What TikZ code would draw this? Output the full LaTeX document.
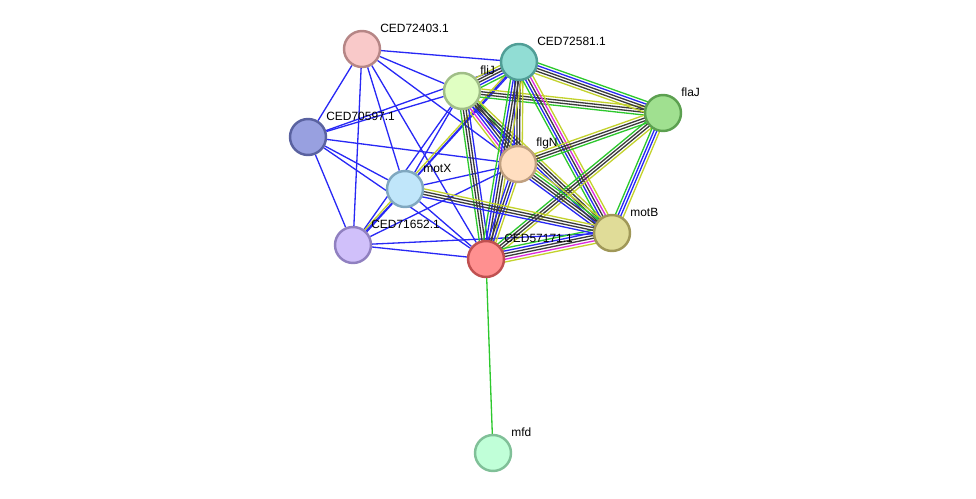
\documentclass[tikz,border=0pt]{standalone}
\usepackage{fontspec}
\setmainfont{Liberation Sans}
\usetikzlibrary{calc, backgrounds}

\definecolor{evblue}{RGB}{40,40,245}
\definecolor{evgreen}{RGB}{45,200,45}
\definecolor{evblack}{RGB}{60,60,60}
\definecolor{evyellow}{RGB}{195,210,45}
\definecolor{evmagenta}{RGB}{220,45,220}

% #1 from, #2 to, #3 number of lines, #4 colours of the parallel lines
\newcommand{\ppiedge}[4]{%
  \foreach \col [count=\i] in {#4} {
    \pgfmathsetmacro{\off}{(\i-(#3+1)/2)*1.55}
    \draw[link, \col] ($(#1)!\off pt!90:(#2)$) -- ($(#2)!\off pt!-90:(#1)$);
  }}

\begin{document}
\begin{tikzpicture}[
    x=0.02cm, y=-0.02cm,
    prot/.style={circle, line width=1.4pt, minimum size=0.72cm, inner sep=0pt},
    lbl/.style={anchor=west, inner sep=0pt, font=\fontsize{6.8}{8}\selectfont},
    link/.style={line width=0.75pt},
]
\useasboundingbox (0,0) rectangle (976,499);

% Proteins
\node[prot, draw={rgb,255:red,182;green,134;blue,134}, fill={rgb,255:red,249;green,201;blue,201}] (n72403) at (362,49) {};
\node[prot, draw={rgb,255:red,80;green,158;blue,150}, fill={rgb,255:red,145;green,221;blue,212}] (n72581) at (519,62) {};
\node[prot, draw={rgb,255:red,160;green,190;blue,135}, fill={rgb,255:red,224;green,255;blue,194}] (fliJ) at (462,91) {};
\node[prot, draw={rgb,255:red,92;green,160;blue,80}, fill={rgb,255:red,160;green,224;blue,144}] (flaJ) at (663,113) {};
\node[prot, draw={rgb,255:red,90;green,98;blue,160}, fill={rgb,255:red,152;green,160;blue,224}] (n70597) at (308,137) {};
\node[prot, draw={rgb,255:red,192;green,160;blue,128}, fill={rgb,255:red,255;green,222;blue,192}] (flgN) at (518,164) {};
\node[prot, draw={rgb,255:red,128;green,168;blue,192}, fill={rgb,255:red,192;green,230;blue,250}] (motX) at (405,189) {};
\node[prot, draw={rgb,255:red,144;green,128;blue,192}, fill={rgb,255:red,208;green,192;blue,250}] (n71652) at (353,245) {};
\node[prot, draw={rgb,255:red,160;green,152;blue,88}, fill={rgb,255:red,224;green,220;blue,152}] (motB) at (612,233) {};
\node[prot, draw={rgb,255:red,192;green,80;blue,80}, fill={rgb,255:red,255;green,144;blue,144}] (n57171) at (486,259) {};
\node[prot, draw={rgb,255:red,128;green,192;blue,152}, fill={rgb,255:red,192;green,255;blue,216}] (mfd) at (493,453) {};

% Labels
\node[lbl] (l72403) at ($(n72403)+(18,-21)$) {CED72403.1};
\node[lbl] (l72581) at ($(n72581)+(18,-21)$) {CED72581.1};
\node[lbl] (lfliJ) at ($(fliJ)+(18,-21)$) {fliJ};
\node[lbl] (lflaJ) at ($(flaJ)+(18,-21)$) {flaJ};
\node[lbl] (l70597) at ($(n70597)+(18,-21)$) {CED70597.1};
\node[lbl] (lflgN) at ($(flgN)+(18,-21)$) {flgN};
\node[lbl] (lmotX) at ($(motX)+(18,-21)$) {motX};
\node[lbl] (l71652) at ($(n71652)+(18,-21)$) {CED71652.1};
\node[lbl] (lmotB) at ($(motB)+(18,-21)$) {motB};
\node[lbl] (l57171) at ($(n57171)+(18,-21)$) {CED57171.1};
\node[lbl] (lmfd) at ($(mfd)+(18,-21)$) {mfd};

% Edges behind the proteins
\begin{scope}[on background layer]
\foreach \a/\b in {n72403/n72581, n72403/fliJ, n72403/flgN, n72403/n70597,
    n72403/motX, n72403/n71652, n72403/n57171, n70597/fliJ, n70597/n72581,
    n70597/flgN, n70597/motX, n70597/n71652, n70597/n57171, motX/fliJ,
    motX/flgN, motX/n71652, motX/n57171, motX/n72581, n71652/fliJ,
    n71652/flgN, n71652/n57171, n71652/motB}
  \draw[link, evblue] (\a) -- (\b);

\ppiedge{n71652}{n72581}{2}{evblue, evyellow}
\ppiedge{fliJ}{n72581}{5}{evgreen, evblue, evblack, evblack, evyellow}
\ppiedge{fliJ}{flaJ}{4}{evgreen, evblack, evblack, evyellow}
\ppiedge{fliJ}{flgN}{6}{evyellow, evmagenta, evblue, evblack, evblack, evgreen}
\ppiedge{fliJ}{motB}{4}{evblue, evblack, evblack, evyellow}
\ppiedge{fliJ}{n57171}{4}{evgreen, evblack, evblack, evblue}
\ppiedge{n72581}{flaJ}{5}{evyellow, evblack, evblack, evblue, evgreen}
\ppiedge{n72581}{flgN}{4}{evblue, evblack, evblack, evyellow}
\ppiedge{n72581}{n57171}{5}{evgreen, evblue, evblack, evblack, evyellow}
\ppiedge{n72581}{motB}{5}{evgreen, evblue, evblack, evmagenta, evyellow}
\ppiedge{flaJ}{flgN}{4}{evyellow, evblack, evblack, evgreen}
\ppiedge{flaJ}{n57171}{4}{evgreen, evblack, evblack, evyellow}
\ppiedge{flaJ}{motB}{4}{evgreen, evblue, evblue, evyellow}
\ppiedge{flgN}{motB}{5}{evblue, evblack, evblack, evgreen, evyellow}
\ppiedge{flgN}{n57171}{4}{evblue, evblack, evblue, evyellow}
\ppiedge{motB}{n57171}{6}{evgreen, evblue, evblack, evblack, evmagenta, evyellow}
\ppiedge{motX}{motB}{4}{evblue, evblack, evblack, evyellow}
\draw[link, evgreen] (n57171) -- (mfd);
\end{scope}

\end{tikzpicture}
\end{document}
